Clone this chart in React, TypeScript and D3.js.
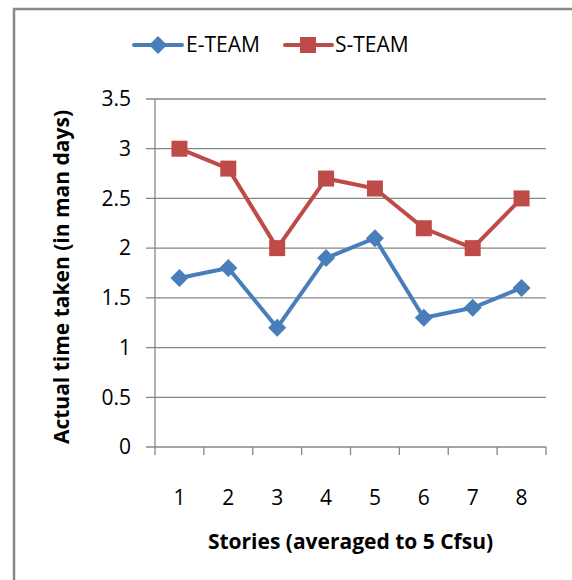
import React from 'react';
import * as d3 from 'd3';

const stories = ['1', '2', '3', '4', '5', '6', '7', '8'];
const eTeam = [1.7, 1.8, 1.2, 1.9, 2.1, 1.3, 1.4, 1.6];
const sTeam = [3, 2.8, 2, 2.7, 2.6, 2.2, 2, 2.5];
const yTicks = [0, 0.5, 1, 1.5, 2, 2.5, 3, 3.5];

const BLUE = '#4A7EBB';
const RED = '#BE4B48';
const GRID = '#868686';
const FONT = "'Open Sans', 'Liberation Sans', sans-serif";
const FS = 21;

const App: React.FC = () => {
    const width = 572;
    const height = 580;
    const left = 155;
    const right = 546;
    const top = 99;
    const bottom = 447;

    const x = d3.scaleBand<string>().domain(stories).range([left, right]);
    const y = d3.scaleLinear().domain([0, 3.5]).range([bottom, top]);
    const cx = (s: string) => (x(s) || 0) + x.bandwidth() / 2;

    const line = d3.line<number>()
        .x((_, i) => cx(stories[i]))
        .y(d => y(d));

    const diamond = (px: number, py: number, r: number) =>
        `M${px},${py - r}L${px + r},${py}L${px},${py + r}L${px - r},${py}Z`;

    const boundaries = stories.map(s => x(s) || 0).concat([right]);

    return (
        <svg width={width} height={height} style={{ position: 'absolute', left: 0, top: 0 }}>
            <rect x={0} y={0} width={width} height={height} fill="#fff" />
            <rect x={14} y={9} width={width + 10} height={height + 10} fill="none" stroke="#888" strokeWidth={2.5} />

            {/* gridlines */}
            {yTicks.map(t => (
                <g key={t}>
                    <line x1={left - 9} x2={right} y1={y(t)} y2={y(t)} stroke={GRID} strokeWidth={1.3} />
                    <text x={131} y={y(t)} dy="0.35em" textAnchor="end" fontFamily={FONT} fontSize={FS} fill="#000">
                        {t}
                    </text>
                </g>
            ))}

            {/* axes */}
            <line x1={left} x2={left} y1={top} y2={bottom} stroke={GRID} strokeWidth={1.3} />
            {boundaries.map((b, i) => (
                <line key={i} x1={b} x2={b} y1={bottom} y2={bottom + 8} stroke={GRID} strokeWidth={1.3} />
            ))}
            {stories.map(s => (
                <text key={s} x={cx(s)} y={498} dy="0.35em" textAnchor="middle" fontFamily={FONT} fontSize={FS} fill="#000">
                    {s}
                </text>
            ))}

            {/* axis titles */}
            <text x={(left + right) / 2} y={542} dy="0.35em" textAnchor="middle" fontFamily={FONT} fontSize={FS} fontWeight="bold" fill="#000">
                Stories (averaged to 5 Cfsu)
            </text>
            <text transform={`translate(62,${(top + bottom) / 2 + 4}) rotate(-90)`} dy="0.35em" textAnchor="middle" fontFamily={FONT} fontSize={FS} fontWeight="bold" fill="#000">
                Actual time taken (in man days)
            </text>

            {/* series */}
            <path d={line(sTeam) || undefined} fill="none" stroke={RED} strokeWidth={4} strokeLinejoin="round" />
            <path d={line(eTeam) || undefined} fill="none" stroke={BLUE} strokeWidth={4} strokeLinejoin="round" />
            {sTeam.map((v, i) => (
                <rect key={i} x={cx(stories[i]) - 8} y={y(v) - 8} width={16} height={16} fill={RED} />
            ))}
            {eTeam.map((v, i) => (
                <path key={i} d={diamond(cx(stories[i]), y(v), 9)} fill={BLUE} />
            ))}

            {/* legend */}
            <line x1={134} x2={182} y1={45} y2={45} stroke={BLUE} strokeWidth={4} strokeLinecap="round" />
            <path d={diamond(158, 45, 9)} fill={BLUE} />
            <text x={186} y={45} dy="0.35em" fontFamily={FONT} fontSize={FS} fill="#000">E-TEAM</text>
            <line x1={285} x2={332} y1={45} y2={45} stroke={RED} strokeWidth={4} strokeLinecap="round" />
            <rect x={300} y={37} width={16} height={16} fill={RED} />
            <text x={335} y={45} dy="0.35em" fontFamily={FONT} fontSize={FS} fill="#000">S-TEAM</text>
        </svg>
    );
};

export default App;
